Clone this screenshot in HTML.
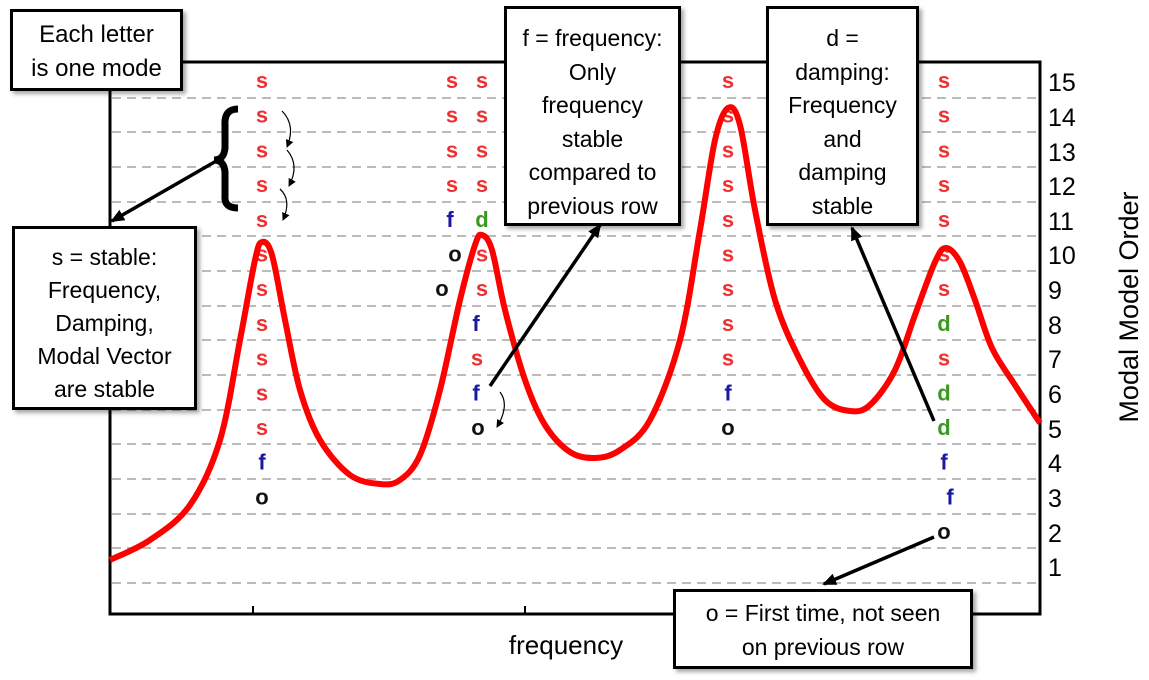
<!DOCTYPE html>
<html><head><meta charset="utf-8"><style>
body{margin:0;background:#fff;width:1149px;height:680px;overflow:hidden;font-family:"Liberation Sans",sans-serif}
svg{position:absolute;left:0;top:0}
.b{position:absolute;background:#fff;border:3px solid #000;box-shadow:3px 3px 4px rgba(0,0,0,.35);text-align:center;font-size:23px;line-height:33.5px;color:#000;box-sizing:border-box;white-space:nowrap}
</style></head><body>
<svg width="1149" height="680" viewBox="0 0 1149 680">
<g stroke="#bbb" stroke-width="2" stroke-dasharray="9,6">
<line x1="112" x2="1040" y1="98" y2="98"/><line x1="112" x2="1040" y1="132" y2="132"/><line x1="112" x2="1040" y1="167" y2="167"/><line x1="112" x2="1040" y1="202" y2="202"/><line x1="112" x2="1040" y1="236" y2="236"/><line x1="112" x2="1040" y1="271" y2="271"/><line x1="112" x2="1040" y1="306" y2="306"/><line x1="112" x2="1040" y1="340" y2="340"/><line x1="112" x2="1040" y1="375" y2="375"/><line x1="112" x2="1040" y1="410" y2="410"/><line x1="112" x2="1040" y1="444" y2="444"/><line x1="112" x2="1040" y1="479" y2="479"/><line x1="112" x2="1040" y1="514" y2="514"/><line x1="112" x2="1040" y1="548" y2="548"/><line x1="112" x2="1040" y1="583" y2="583"/>
</g>
<rect x="110" y="62" width="930" height="552" fill="none" stroke="#000" stroke-width="3"/>
<line x1="253" y1="614" x2="253" y2="606" stroke="#000" stroke-width="2"/>
<line x1="525" y1="614" x2="525" y2="606" stroke="#000" stroke-width="2"/>
<g font-weight="bold" font-size="22" text-anchor="middle" id="letters"></g>
<path id="curve" fill="none" stroke="#f00" stroke-width="6" stroke-linejoin="round"/>
<g font-size="25" fill="#000">
<text x="1048" y="91">15</text><text x="1048" y="126">14</text><text x="1048" y="161">13</text><text x="1048" y="195">12</text><text x="1048" y="230">11</text><text x="1048" y="264">10</text><text x="1048" y="299">9</text><text x="1048" y="334">8</text><text x="1048" y="368">7</text><text x="1048" y="403">6</text><text x="1048" y="438">5</text><text x="1048" y="472">4</text><text x="1048" y="507">3</text><text x="1048" y="542">2</text><text x="1048" y="576">1</text>
</g>
<text x="1138" y="307" font-size="27" text-anchor="middle" transform="rotate(-90 1138 307)">Modal Model Order</text>
<text x="566" y="654" font-size="26" text-anchor="middle">frequency</text>
<defs><marker id="ah" markerWidth="8" markerHeight="8" refX="7" refY="4" orient="auto" markerUnits="userSpaceOnUse"><path d="M0,0 L8,4 L0,8z" fill="#000"/></marker>
<marker id="ah2" markerWidth="14" markerHeight="12" refX="12" refY="6" orient="auto" markerUnits="userSpaceOnUse"><path d="M0,0 L14,6 L0,12z" fill="#000"/></marker></defs>
<g stroke="#000" fill="none">
<line x1="110" y1="90" x2="110" y2="222" stroke-width="2"/>
<line x1="218" y1="160" x2="112" y2="221" stroke-width="3.5" marker-end="url(#ah2)"/>
<path d="M238,109 Q224,109 225,125 L225,148 Q224,160 214,160 Q224,160 225,172 L225,196 Q224,208 238,208" stroke-width="7"/>
<path d="M282,111 Q296,125 287,147" stroke-width="1.2" marker-end="url(#ah)"/>
<path d="M287,150 Q300,165 289,186" stroke-width="1.2" marker-end="url(#ah)"/>
<path d="M280,189 Q292,200 283,220" stroke-width="1.2" marker-end="url(#ah)"/>
<path d="M500,392 Q510,405 497,427" stroke-width="1.2" marker-end="url(#ah)"/>
<line x1="490" y1="386" x2="600" y2="225" stroke-width="3.5" marker-end="url(#ah2)"/>
<line x1="934" y1="421" x2="852" y2="228" stroke-width="3.5" marker-end="url(#ah2)"/>
<line x1="934" y1="537" x2="824" y2="584" stroke-width="3.5" marker-end="url(#ah2)"/>
</g>
</svg>
<div class="b" style="left:10px;top:9px;width:173px;height:82px;padding-top:6px;font-size:24px">Each letter<br>is one mode</div>
<div class="b" style="left:12px;top:226px;width:185px;height:184px;padding-top:12px;line-height:33px;font-size:23px">s = stable:<br>Frequency,<br>Damping,<br>Modal Vector<br>are stable</div>
<div class="b" style="left:504px;top:6px;width:177px;height:220px;padding-top:13px;font-size:23px">f = frequency:<br>Only<br>frequency<br>stable<br>compared to<br>previous row</div>
<div class="b" style="left:766px;top:6px;width:153px;height:220px;padding-top:13px;font-size:23px">d =<br>damping:<br>Frequency<br>and<br>damping<br>stable</div>
<div class="b" style="left:673px;top:589px;width:300px;height:80px;padding-top:5px;font-size:23px">o = First time, not seen<br>on previous row</div>
<script>
var C={s:"#f03030",f:"#1a1aa0",d:"#3a9a20",o:"#111"};
function y(r){return 88+(15-r)*34.7;}
var L=[];
function col(x,arr){arr.forEach(function(a){L.push([a[2]||x,a[0],a[1]]);});}
var c1=[];for(var r=15;r>=5;r--)c1.push([r,'s']);c1.push([4,'f'],[3,'o']);col(262,c1);
col(452,[[15,'s'],[14,'s'],[13,'s'],[12,'s'],[11,'f',450],[10,'o',455],[9,'o',442]]);
col(482,[[15,'s'],[14,'s'],[13,'s'],[12,'s'],[11,'d'],[10,'s'],[9,'s'],[8,'f',476],[7,'s',477],[6,'f',476],[5,'o',478]]);
var c3=[];for(r=15;r>=7;r--)c3.push([r,'s']);c3.push([6,'f'],[5,'o']);col(728,c3);
col(944,[[15,'s'],[14,'s'],[13,'s'],[12,'s'],[11,'s'],[10,'s'],[9,'s'],[8,'d'],[7,'s'],[6,'d'],[5,'d'],[4,'f'],[3,'f',950],[2,'o']]);
var g=document.getElementById('letters'),h='';
L.forEach(function(l){h+='<text x="'+l[0]+'" y="'+y(l[1]).toFixed(1)+'" fill="'+C[l[2]]+'">'+l[2]+'</text>';});
g.innerHTML=h;
var P=[[110,560],[150,540],[190,505],[220,440],[240,340],[255,260],[262,242],[272,255],[285,320],[300,390],[320,440],[350,475],[380,484],[400,480],[420,455],[440,390],[460,300],[475,245],[482,235],[492,250],[505,310],[525,380],[545,425],[570,452],[595,458],[620,450],[650,420],[680,340],[700,230],[715,140],[728,108],[740,125],[755,210],[775,300],[800,360],[825,400],[850,411],[870,405],[895,370],[915,315],[935,262],[946,248],[960,262],[975,300],[992,348],[1015,385],[1040,423]];
var d='M'+P[0];
for(var i=0;i<P.length-1;i++){var p0=P[i-1]||P[i],p1=P[i],p2=P[i+1],p3=P[i+2]||p2;
d+=' C'+(p1[0]+(p2[0]-p0[0])/6)+','+(p1[1]+(p2[1]-p0[1])/6)+' '+(p2[0]-(p3[0]-p1[0])/6)+','+(p2[1]-(p3[1]-p1[1])/6)+' '+p2;}
document.getElementById('curve').setAttribute('d',d);
</script>
</body></html>
